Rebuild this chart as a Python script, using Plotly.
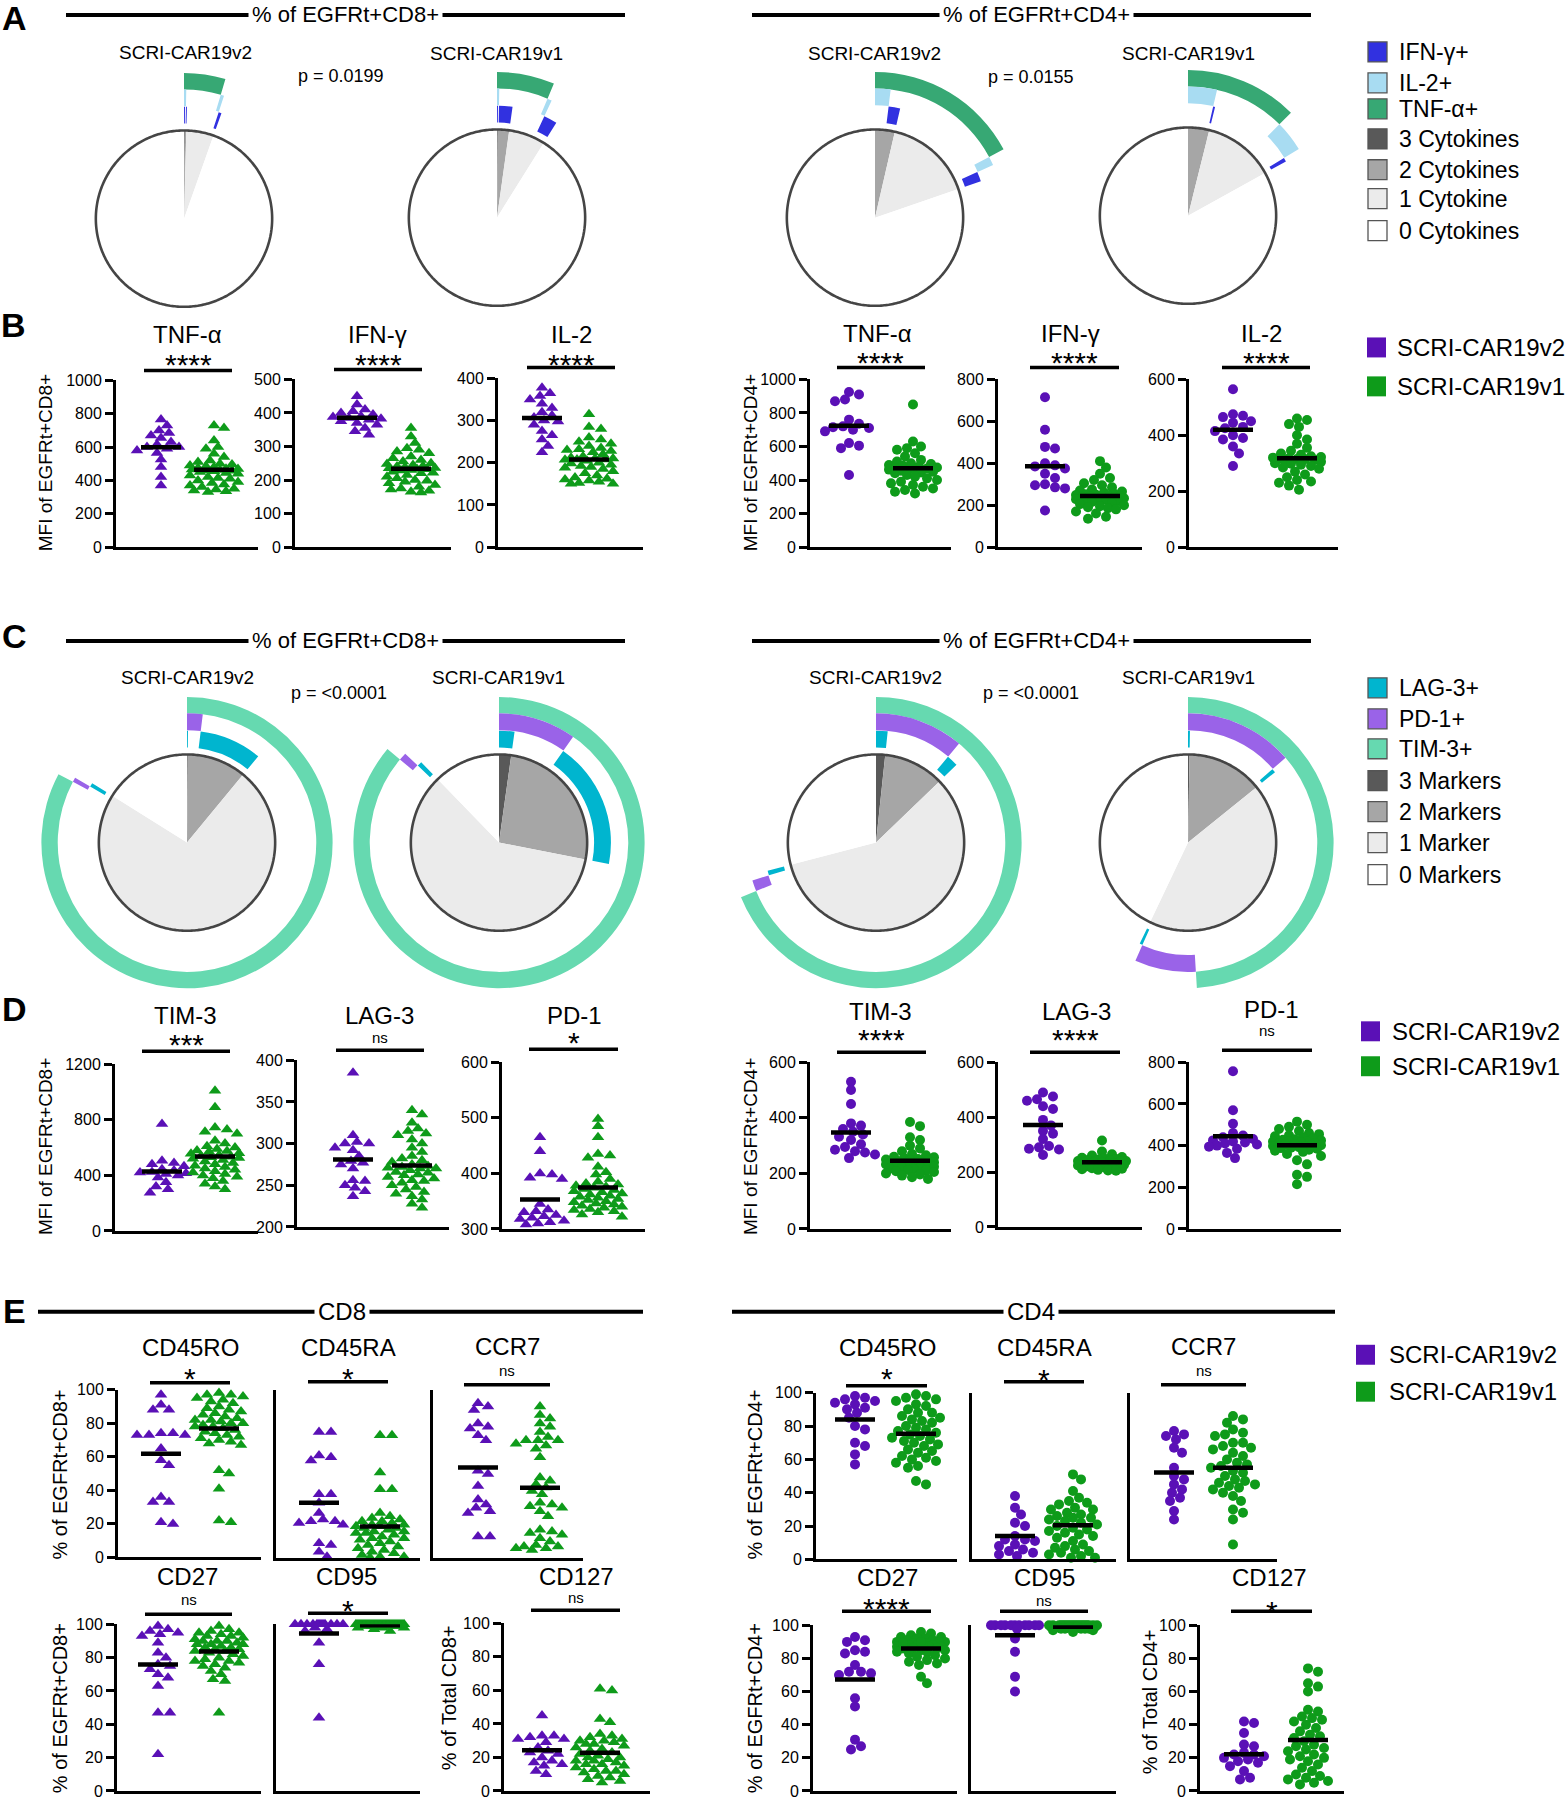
import numpy as np
import plotly.graph_objects as go

W, H = 1567, 1800
FONT = "Liberation Sans, Arial, Helvetica, sans-serif"
PURPLE = "#5a10b6"
GREEN = "#0e9b1a"

# ---------------- DATA ----------------
# Panels A / C : SPICE pies, % of cells in each marker combination
# combination order: all three, (1+2), (1+3), (2+3), 1 only, 2 only, 3 only, none
combo_members = [[0, 1, 2], [0, 1], [0, 2], [1, 2], [0], [1], [2], []]
cyto_rings = ["TNF-α+", "IL-2+", "IFN-γ+"]          # outer, middle, inner ring
cyto_cd8_v2 = [0.14, 0.14, 0.14, 0.00, 4.17, 0.42, 0.42, 94.57]
cyto_cd8_v1 = [0.14, 0.14, 1.94, 0.00, 4.17, 0.56, 1.94, 91.11]
cyto_cd4_v2 = [0.00, 1.94, 1.67, 0.00, 13.61, 1.11, 1.39, 80.28]
cyto_cd4_v1 = [0.00, 3.61, 0.28, 0.00, 8.61, 3.89, 0.56, 83.05]
marker_rings = ["TIM-3+", "PD-1+", "LAG-3+"]
mk_cd8_v2 = [0.14, 1.81, 9.03, 0.00, 71.81, 0.56, 0.56, 16.09]
mk_cd8_v1 = [2.22, 7.50, 18.33, 0.00, 58.06, 0.97, 0.69, 12.23]
mk_cd4_v2 = [1.67, 9.44, 1.67, 0.00, 56.11, 1.39, 0.69, 29.03]
mk_cd4_v1 = [0.28, 13.33, 0.56, 0.00, 34.86, 7.64, 0.42, 42.91]
p_cyto = ["p = 0.0199", "p = 0.0155"]
p_mark = ["p = <0.0001", "p = <0.0001"]
groups = ["SCRI-CAR19v2", "SCRI-CAR19v1"]

# Panel B : MFI cytokines
b_cd8_tnf_v2 = [765, 730, 700, 685, 670, 655, 630, 615, 600, 600, 590, 580, 565, 525, 480, 420, 370]
b_cd8_tnf_v1 = [730, 715, 640, 600, 590, 560, 540, 520, 510, 500, 495, 490, 485, 480, 475, 470, 468, 465, 462, 460,
                458, 455, 450, 445, 440, 430, 420, 415, 410, 400, 390, 385, 375, 370, 360, 350, 345, 340, 335, 330]
b_cd8_ifn_v2 = [450, 425, 410, 405, 400, 395, 390, 388, 385, 383, 380, 375, 370, 365, 355, 345, 335]
b_cd8_ifn_v1 = [355, 330, 310, 295, 290, 285, 280, 270, 265, 260, 255, 250, 248, 245, 242, 240, 238, 236, 235, 233,
                232, 230, 228, 225, 222, 220, 215, 210, 205, 200, 198, 195, 190, 185, 180, 175, 172, 168, 165, 163]
b_cd8_il2_v2 = [378, 365, 358, 350, 340, 330, 320, 312, 307, 300, 298, 290, 275, 265, 255, 240, 225]
b_cd8_il2_v1 = [315, 285, 280, 260, 255, 250, 245, 240, 235, 232, 230, 228, 225, 220, 215, 212, 210, 210, 208, 208,
                207, 205, 200, 198, 195, 192, 190, 188, 185, 180, 175, 170, 165, 162, 160, 158, 155, 152, 150, 150]
b_cd4_tnf_v2 = [925, 910, 880, 870, 760, 735, 720, 715, 710, 700, 690, 620, 605, 590, 430]
b_cd4_tnf_v1 = [850, 630, 600, 590, 580, 560, 540, 520, 510, 500, 495, 490, 485, 480, 475, 470, 468, 465, 462, 460,
                455, 450, 445, 440, 430, 420, 410, 400, 390, 380, 370, 360, 350, 340, 330, 320]
b_cd4_ifn_v2 = [715, 560, 478, 470, 400, 390, 385, 375, 350, 330, 300, 295, 285, 280, 175]
b_cd4_ifn_v1 = [410, 380, 350, 330, 320, 305, 295, 285, 275, 270, 265, 260, 255, 252, 250, 248, 245, 243, 242, 240,
                238, 236, 233, 230, 228, 225, 222, 220, 215, 210, 205, 200, 195, 190, 185, 180, 170, 160, 145, 135]
b_cd4_il2_v2 = [565, 475, 470, 465, 450, 445, 430, 425, 415, 400, 390, 385, 360, 335, 290]
b_cd4_il2_v1 = [460, 455, 440, 430, 400, 385, 370, 355, 345, 335, 330, 325, 322, 320, 318, 316, 315, 314, 312, 310,
                305, 300, 298, 295, 290, 285, 280, 270, 260, 250, 240, 235, 230, 220, 205]

# Panel D : MFI exhaustion markers
d_cd8_tim_v2 = [770, 505, 490, 480, 465, 445, 435, 425, 420, 415, 410, 400, 385, 350, 320, 300, 275]
d_cd8_tim_v1 = [1010, 890, 745, 730, 715, 700, 650, 630, 610, 600, 590, 580, 575, 570, 560, 555, 545, 540, 535, 530,
                525, 520, 510, 500, 490, 480, 470, 460, 450, 440, 430, 420, 410, 400, 390, 380, 360, 340, 320, 300]
d_cd8_lag_v2 = [385, 310, 302, 300, 300, 295, 292, 285, 279, 277, 275, 270, 256, 255, 250, 247, 243, 237]
d_cd8_lag_v1 = [340, 335, 325, 318, 315, 312, 310, 305, 300, 295, 290, 285, 282, 280, 278, 275, 273, 272, 271, 270,
                270, 268, 266, 265, 263, 262, 260, 258, 256, 255, 253, 250, 248, 245, 242, 240, 237, 233, 228, 223]
d_cd8_pd1_v2 = [465, 440, 400, 398, 392, 390, 345, 335, 332, 330, 325, 323, 320, 318, 315, 312, 310, 308]
d_cd8_pd1_v1 = [498, 485, 465, 435, 432, 428, 412, 402, 398, 390, 385, 382, 380, 378, 376, 374, 372, 370, 368, 366,
                364, 362, 360, 358, 356, 354, 352, 350, 348, 346, 344, 342, 340, 338, 336, 334, 332, 330, 326, 322]
d_cd4_tim_v2 = [530, 500, 450, 380, 372, 360, 350, 340, 332, 320, 305, 295, 285, 280, 275, 268, 255]
d_cd4_tim_v1 = [385, 370, 330, 320, 300, 290, 280, 270, 265, 260, 258, 255, 252, 250, 248, 246, 244, 242, 240, 238,
                236, 234, 232, 230, 228, 226, 224, 222, 220, 218, 215, 212, 210, 208, 205, 200, 196, 192, 186, 180]
d_cd4_lag_v2 = [490, 475, 465, 460, 440, 430, 390, 370, 350, 340, 320, 295, 290, 285, 282, 262]
d_cd4_lag_v1 = [315, 275, 265, 260, 255, 252, 250, 248, 246, 244, 242, 240, 240, 238, 236, 235, 234, 232, 230, 228,
                226, 225, 224, 222, 220, 218, 216, 214, 212, 210, 208, 206, 205]
d_cd4_pd1_v2 = [757, 570, 505, 460, 448, 440, 432, 425, 420, 415, 410, 405, 400, 395, 385, 365, 340]
d_cd4_pd1_v1 = [515, 500, 490, 480, 470, 460, 455, 450, 445, 440, 435, 430, 428, 425, 422, 420, 418, 415, 412, 410,
                408, 405, 402, 400, 398, 395, 392, 390, 388, 385, 380, 375, 370, 360, 350, 330, 310, 260, 250, 215]

# Panel E : memory phenotype (%)
e_cd8_cd45ro_v2 = [97, 91, 88, 88, 74, 73, 73, 74, 73, 65, 58, 55, 36, 33, 33, 21, 20]
e_cd8_cd45ro_v1 = [98, 97, 97, 96, 95, 94, 93, 92, 90, 89, 88, 87, 86, 85, 84, 83, 82, 82, 81, 80,
                   80, 79, 78, 78, 77, 76, 75, 74, 73, 72, 71, 70, 68, 67, 52, 50, 41, 22, 21, 69]
e_cd8_cd45ra_v2 = [75, 75, 61, 60, 58, 38, 38, 33, 27, 23, 22, 22, 21, 20, 9, 8, 4, 1]
e_cd8_cd45ra_v1 = [73, 73, 51, 41, 41, 27, 25, 24, 23, 22, 22, 21, 20, 20, 19, 18, 18, 17, 16, 15,
                   15, 14, 13, 12, 12, 11, 10, 9, 8, 7, 6, 5, 4, 3, 2, 1, 1, 0.5, 19, 16]
e_cd8_ccr7_v2 = [92, 90, 88, 80, 78, 77, 73, 70, 52, 50, 43, 35, 32, 30, 28, 27, 13, 13]
e_cd8_ccr7_v1 = [90, 85, 83, 80, 78, 75, 72, 70, 70, 68, 67, 65, 60, 48, 46, 44, 42, 40, 38, 33,
                 32, 31, 30, 28, 25, 17, 16, 15, 14, 12, 10, 8, 7, 7, 6, 6, 5, 70]
e_cd4_cd45ro_v2 = [98, 97, 96, 95, 94, 93, 91, 90, 88, 85, 80, 78, 70, 68, 63, 57]
e_cd4_cd45ro_v1 = [99, 98, 97, 96, 95, 93, 92, 90, 88, 86, 85, 84, 82, 80, 79, 78, 77, 76, 75, 74,
                   73, 72, 71, 70, 69, 68, 66, 65, 64, 62, 61, 60, 59, 58, 56, 55, 47, 45, 88, 83]
e_cd4_cd45ra_v2 = [38, 31, 27, 22, 20, 14, 12, 12, 11, 9, 8, 6, 5, 4, 3, 2]
e_cd4_cd45ra_v1 = [51, 48, 41, 37, 35, 34, 33, 31, 30, 28, 27, 26, 25, 24, 23, 22, 21, 20, 19, 18,
                   17, 16, 15, 14, 13, 11, 9, 8, 7, 6, 5, 4, 3, 2, 1, 1, 30, 25]
e_cd4_ccr7_v2 = [77, 75, 74, 72, 67, 64, 55, 50, 48, 45, 42, 40, 37, 35, 29, 24]
e_cd4_ccr7_v1 = [86, 84, 82, 78, 76, 75, 74, 70, 68, 67, 66, 64, 62, 60, 58, 57, 56, 55, 53, 52,
                 50, 48, 47, 46, 45, 44, 43, 42, 40, 38, 35, 30, 28, 24, 9, 70]
e_cd8_cd27_v2 = [99, 97, 96, 95, 94, 93, 89, 83, 80, 76, 75, 73, 70, 68, 63, 47, 47, 22]
e_cd8_cd27_v1 = [99, 97, 96, 95, 95, 94, 93, 93, 92, 91, 90, 90, 89, 88, 88, 87, 86, 86, 85, 85,
                 84, 84, 83, 82, 81, 80, 79, 78, 78, 77, 76, 75, 74, 72, 70, 67, 66, 47, 88, 90]
e_cd8_cd95_v2 = [100, 100, 100, 100, 100, 100, 100, 100, 100, 100, 100, 100, 98, 97, 96, 89, 76, 44]
e_cd8_cd95_v1 = [100, 100, 100, 100, 100, 100, 100, 100, 100, 100, 100, 100, 100, 100, 100, 100, 100, 100, 100, 100,
                 100, 100, 100, 100, 100, 99, 99, 99, 99, 99, 99, 99, 99, 99, 99, 98, 98, 98, 97, 96]
e_cd8_cd127_v2 = [45, 33, 33, 32, 31, 31, 29, 26, 24, 23, 22, 20, 18, 17, 16, 15, 12, 10]
e_cd8_cd127_v1 = [61, 60, 43, 41, 34, 33, 32, 31, 30, 29, 28, 27, 26, 25, 24, 23, 22, 21, 20, 20,
                  19, 18, 17, 16, 16, 15, 14, 13, 12, 11, 10, 9, 8, 7, 6, 5, 30, 28, 18, 12]
e_cd4_cd27_v2 = [93, 91, 90, 84, 83, 85, 72, 76, 72, 71, 70, 56, 51, 31, 27, 25]
e_cd4_cd27_v1 = [96, 95, 94, 93, 93, 92, 92, 91, 91, 90, 90, 90, 89, 89, 88, 88, 88, 87, 87, 87,
                 86, 86, 86, 85, 85, 84, 84, 83, 82, 81, 80, 79, 78, 77, 76, 69, 65, 88, 89, 90]
e_cd4_cd95_v2 = [100, 100, 100, 100, 100, 100, 100, 100, 100, 100, 100, 98, 92, 84, 69, 60]
e_cd4_cd95_v1 = [100, 100, 100, 100, 100, 100, 100, 100, 100, 100, 100, 100, 100, 100, 100, 100, 100, 100, 100, 100,
                 99, 99, 99, 99, 99, 99, 99, 99, 99, 99, 98, 98, 98, 98, 98, 97, 97, 96]
e_cd4_cd127_v2 = [42, 41, 35, 28, 27, 23, 22, 22, 21, 20, 19, 18, 17, 15, 12, 8, 7]
e_cd4_cd127_v1 = [74, 72, 65, 63, 60, 49, 48, 45, 44, 43, 42, 40, 38, 36, 34, 32, 30, 28, 26, 25,
                  24, 22, 21, 20, 19, 18, 16, 14, 12, 10, 9, 8, 7, 6, 5, 4, 33, 27]

# ---------------- STYLE ----------------
LEVEL_COLORS = {3: "#595959", 2: "#a6a6a6", 1: "#ebebeb", 0: "#ffffff"}
RING_BOUNDS = [(130.5, 147.0), (113.5, 130.5), (96.0, 113.0)]
CYTO_COLORS = ["#37a874", "#a8dcf2", "#3131e0"]
MARKER_COLORS = ["#66d9b0", "#9a63e8", "#00b5cf"]
PIE_R = 89.0

# the rendered page maps paper rows as  y_shown = Y0 + YS * y_layout ; compensate
Y0, YS = 7.0, 0.9922


def px(x):
    return x / W


def py(y):
    v = 1 - ((y - Y0) / YS) / H
    return min(1.0, max(0.0, v))


fig = go.Figure()
shapes, ann = [], []
layout = dict(width=W, height=H, margin=dict(l=0, r=0, t=0, b=0), paper_bgcolor="white",
              plot_bgcolor="white", showlegend=False, font=dict(family=FONT, color="black"))


def text(x, y, s, size, bold=False, angle=0, anchor="center", bg=None):
    d = dict(x=px(x), y=py(y), xref="paper", yref="paper", text=(f"<b>{s}</b>" if bold else s),
             showarrow=False, font=dict(size=size, color="black", family=FONT),
             xanchor=anchor, yanchor="middle", textangle=angle)
    if bg:
        d.update(bgcolor=bg, borderpad=3)
    ann.append(d)


def hline(x0, x1, y, w):
    shapes.append(dict(type="line", xref="paper", yref="paper", x0=px(x0), x1=px(x1), y0=py(y), y1=py(y),
                       line=dict(color="black", width=w)))


def rect(x0, y0, x1, y1, fill, lw=0):
    shapes.append(dict(type="rect", xref="paper", yref="paper", x0=px(x0), x1=px(x1), y0=py(y1), y1=py(y0),
                       fillcolor=fill, line=dict(color="#555555", width=lw)))


# ---------------- PIES ----------------
pie_specs = [
    (184, 218, cyto_cd8_v2, CYTO_COLORS), (497, 217, cyto_cd8_v1, CYTO_COLORS),
    (875, 217, cyto_cd4_v2, CYTO_COLORS), (1188, 215, cyto_cd4_v1, CYTO_COLORS),
    (187, 843, mk_cd8_v2, MARKER_COLORS), (499, 843, mk_cd8_v1, MARKER_COLORS),
    (876, 843, mk_cd4_v2, MARKER_COLORS), (1188, 843, mk_cd4_v1, MARKER_COLORS),
]
for k, (cx, cy, values, ring_cols) in enumerate(pie_specs, start=1):
    pid = "polar" if k == 1 else f"polar{k}"
    yc = py(cy)
    layout[pid] = dict(domain=dict(x=[px(cx - 150), px(cx + 150)], y=[yc - 150 / H, yc + 150 / H]),
                       bgcolor="rgba(0,0,0,0)", barmode="overlay",
                       radialaxis=dict(visible=False, range=[0, 150]),
                       angularaxis=dict(visible=False, rotation=90, direction="clockwise"))
    vals = np.asarray(values, float)
    deg = vals / vals.sum() * 360.0
    starts = np.concatenate([[0.0], np.cumsum(deg)[:-1]])
    levels = np.array([len(m) for m in combo_members])
    th, wd, cols = [], [], []
    for lev in (3, 2, 1, 0):
        sel = levels == lev
        w = float(deg[sel].sum())
        if w <= 0:
            continue
        s = float(starts[sel].min())
        th.append(s + w / 2)
        wd.append(w)
        cols.append(LEVEL_COLORS[lev])
    fig.add_trace(go.Barpolar(r=[PIE_R] * len(th), theta=th, width=wd, base=[0] * len(th),
                              marker=dict(color=cols, line=dict(width=0)), subplot=pid, hoverinfo="skip"))
    for m, col in enumerate(ring_cols):
        segs = []
        for i, mem in enumerate(combo_members):
            if m in mem and deg[i] > 0:
                a, b = float(starts[i]), float(starts[i] + deg[i])
                if segs and abs(segs[-1][1] - a) < 1e-6:
                    segs[-1][1] = b
                else:
                    segs.append([a, b])
        r0, r1 = RING_BOUNDS[m]
        fig.add_trace(go.Barpolar(r=[r1 - r0] * len(segs), base=[r0] * len(segs),
                                  theta=[(a + b) / 2 for a, b in segs], width=[b - a for a, b in segs],
                                  marker=dict(color=col, line=dict(width=0)), subplot=pid, hoverinfo="skip"))
    fig.add_trace(go.Scatterpolar(r=[PIE_R] * 361, theta=list(range(361)), mode="lines",
                                  line=dict(color="#454545", width=2.6), subplot=pid, hoverinfo="skip"))

# pie titles / headers / p values
for (cx, ty), g in zip([(185, 52), (496, 53), (874, 53), (1188, 53)], groups * 2):
    text(cx, ty, g, 19)
for (cx, ty), g in zip([(187, 678), (498, 678), (876, 678), (1188, 678)], groups * 2):
    text(cx, ty, g, 19)
text(341, 75, p_cyto[0], 18)
text(1031, 76, p_cyto[1], 18)
text(339, 693, p_mark[0], 18)
text(1031, 693, p_mark[1], 18)
for y in (14, 641):
    hline(66, 625, y, 4)
    hline(752, 1311, y, 4)
    text(345, y, "% of EGFRt+CD8+", 22, bg="white")
    text(1036, y, "% of EGFRt+CD4+", 22, bg="white")
hline(38, 643, 1313, 4)
hline(732, 1335, 1313, 4)
text(342, 1313, "CD8", 24, bg="white")
text(1031, 1313, "CD4", 24, bg="white")

# pie legends
legA = [("IFN-γ+", CYTO_COLORS[2]), ("IL-2+", CYTO_COLORS[1]), ("TNF-α+", CYTO_COLORS[0]),
        ("3 Cytokines", LEVEL_COLORS[3]), ("2 Cytokines", LEVEL_COLORS[2]), ("1 Cytokine", LEVEL_COLORS[1]),
        ("0 Cytokines", LEVEL_COLORS[0])]
for (lab, col), yy in zip(legA, [51, 82, 108, 138, 169, 198, 230]):
    rect(1368, yy - 10, 1387, yy + 10, col, lw=1.3)
    text(1397, yy, lab, 23, anchor="left")
legC = [("LAG-3+", MARKER_COLORS[2]), ("PD-1+", MARKER_COLORS[1]), ("TIM-3+", MARKER_COLORS[0]),
        ("3 Markers", LEVEL_COLORS[3]), ("2 Markers", LEVEL_COLORS[2]), ("1 Marker", LEVEL_COLORS[1]),
        ("0 Markers", LEVEL_COLORS[0])]
for (lab, col), yy in zip(legC, [688, 719, 749, 781, 812, 843, 875]):
    rect(1368, yy - 10, 1387, yy + 10, col, lw=1.3)
    text(1397, yy, lab, 23, anchor="left")

# group legends for scatter panels
for (bx0, bx1, tx, rows) in [(1367, 1386, 1395, (347, 386)), (1361, 1380, 1390, (1032, 1067)),
                             (1356, 1375, 1387, (1356, 1393))]:
    for g, col, yy in zip(groups, (PURPLE, GREEN), rows):
        rect(bx0, yy - 10, bx1, yy + 10, col)
        text(tx, yy, g, 24, anchor="left")

# panel letters
for lab, (x, y) in zip("ABCDE", [(14, 17), (13, 325), (14, 636), (14, 1010), (14, 1312)]):
    text(x, y, lab, 34, bold=True)

# axis titles
for x, y, s, f in [(45, 463, "MFI of EGFRt+CD8+", 19), (750, 463, "MFI of EGFRt+CD4+", 19),
                   (45, 1148, "MFI of EGFRt+CD8+", 19), (750, 1148, "MFI of EGFRt+CD4+", 19),
                   (60, 1476, "% of EGFRt+CD8+", 20), (755, 1476, "% of EGFRt+CD4+", 20),
                   (60, 1710, "% of EGFRt+CD8+", 20), (755, 1710, "% of EGFRt+CD4+", 20),
                   (449, 1700, "% of Total CD8+", 20), (1150, 1704, "% of Total CD4+", 20)]:
    text(x, y, s, f, angle=-90)


# ---------------- SCATTER PANELS ----------------
def swarm_offsets(vals, ppu, dmx, dmy, maxw, step=2.0):
    vals = np.asarray(vals, float)
    ys = vals * ppu
    order = np.argsort(-vals, kind="stable")
    cands = [0.0]
    k = 1
    while k * step <= maxw:
        cands += [k * step, -k * step]
        k += 1
    pxs, pys = [], []
    out = np.zeros(len(vals))
    for i in order:
        best, bestd = 0.0, -1.0
        for c in cands:
            if pxs:
                d = float(np.min(((np.array(pxs) - c) / dmx) ** 2 + ((np.array(pys) - ys[i]) / dmy) ** 2))
            else:
                d = 99.0
            if d >= 1:
                best = c
                break
            if d > bestd:
                bestd, best = d, c
        out[i] = best
        pxs.append(best)
        pys.append(ys[i])
    return out


TRI, CIR = "triangle-up", "circle"
P = [
    dict(v2=b_cd8_tnf_v2, v1=b_cd8_tnf_v1, L=116, R=258, T=380, B=547, c2=161, c1=214, lo=0, hi=1000, dt=200, sym=TRI, ticks=True, title="TNF-α", tx=187, ty=334, sig="****", sy=357, s0=144, s1=232, sly=370),
    dict(v2=b_cd8_ifn_v2, v1=b_cd8_ifn_v1, L=295, R=451, T=379, B=547, c2=357, c1=411, lo=0, hi=500, dt=100, sym=TRI, ticks=True, title="IFN-γ", tx=377, ty=334, sig="****", sy=357, s0=334, s1=422, sly=369),
    dict(v2=b_cd8_il2_v2, v1=b_cd8_il2_v1, L=498, R=643, T=378, B=547, c2=542, c1=589, lo=0, hi=400, dt=100, sym=TRI, ticks=True, title="IL-2", tx=571, ty=334, sig="****", sy=357, s0=527, s1=615, sly=367),
    dict(v2=b_cd4_tnf_v2, v1=b_cd4_tnf_v1, L=810, R=951, T=379, B=547, c2=849, c1=913, lo=0, hi=1000, dt=200, sym=CIR, ticks=True, title="TNF-α", tx=877, ty=333, sig="****", sy=355, s0=837, s1=925, sly=367),
    dict(v2=b_cd4_ifn_v2, v1=b_cd4_ifn_v1, L=998, R=1142, T=379, B=547, c2=1045, c1=1100, lo=0, hi=800, dt=200, sym=CIR, ticks=True, title="IFN-γ", tx=1070, ty=333, sig="****", sy=355, s0=1030, s1=1119, sly=367),
    dict(v2=b_cd4_il2_v2, v1=b_cd4_il2_v1, L=1189, R=1338, T=379, B=547, c2=1233, c1=1297, lo=0, hi=600, dt=200, sym=CIR, ticks=True, title="IL-2", tx=1261, ty=333, sig="****", sy=355, s0=1222, s1=1310, sly=367),
    dict(v2=d_cd8_tim_v2, v1=d_cd8_tim_v1, L=115, R=258, T=1065, B=1232, c2=162, c1=215, lo=0, hi=1200, dt=400, sym=TRI, ticks=True, title="TIM-3", tx=185, ty=1016, sig="***", sy=1038, s0=142, s1=230, sly=1052),
    dict(v2=d_cd8_lag_v2, v1=d_cd8_lag_v1, L=297, R=449, T=1061, B=1228, c2=353, c1=412, lo=200, hi=400, dt=50, sym=TRI, ticks=True, title="LAG-3", tx=379, ty=1016, sig="ns", sy=1040, s0=336, s1=424, sly=1051),
    dict(v2=d_cd8_pd1_v2, v1=d_cd8_pd1_v1, L=502, R=645, T=1063, B=1230, c2=540, c1=598, lo=300, hi=600, dt=100, sym=TRI, ticks=True, title="PD-1", tx=574, ty=1016, sig="*", sy=1036, s0=529, s1=618, sly=1050),
    dict(v2=d_cd4_tim_v2, v1=d_cd4_tim_v1, L=810, R=951, T=1063, B=1230, c2=851, c1=910, lo=0, hi=600, dt=200, sym=CIR, ticks=True, title="TIM-3", tx=880, ty=1012, sig="****", sy=1033, s0=837, s1=926, sly=1053),
    dict(v2=d_cd4_lag_v2, v1=d_cd4_lag_v1, L=998, R=1142, T=1063, B=1228, c2=1043, c1=1102, lo=0, hi=600, dt=200, sym=CIR, ticks=True, title="LAG-3", tx=1076, ty=1012, sig="****", sy=1033, s0=1030, s1=1120, sly=1053),
    dict(v2=d_cd4_pd1_v2, v1=d_cd4_pd1_v1, L=1189, R=1341, T=1063, B=1230, c2=1233, c1=1297, lo=0, hi=800, dt=200, sym=CIR, ticks=True, title="PD-1", tx=1271, ty=1010, sig="ns", sy=1033, s0=1222, s1=1312, sly=1051),
    dict(v2=e_cd8_cd45ro_v2, v1=e_cd8_cd45ro_v1, L=118, R=261, T=1391, B=1559, c2=161, c1=219, lo=0, hi=100, dt=20, sym=TRI, ticks=True, title="CD45RO", tx=190, ty=1349, sig="*", sy=1373, s0=150, s1=230, sly=1384),
    dict(v2=e_cd8_cd45ra_v2, v1=e_cd8_cd45ra_v1, L=276, R=420, T=1391, B=1560, c2=319, c1=380, lo=0, hi=100, dt=20, sym=TRI, ticks=False, title="CD45RA", tx=348, ty=1349, sig="*", sy=1373, s0=308, s1=388, sly=1383),
    dict(v2=e_cd8_ccr7_v2, v1=e_cd8_ccr7_v1, L=433, R=583, T=1391, B=1560, c2=478, c1=540, lo=0, hi=100, dt=20, sym=TRI, ticks=False, title="CCR7", tx=507, ty=1348, sig="ns", sy=1373, s0=464, s1=550, sly=1386),
    dict(v2=e_cd4_cd45ro_v2, v1=e_cd4_cd45ro_v1, L=816, R=957, T=1394, B=1561, c2=855, c1=916, lo=0, hi=100, dt=20, sym=CIR, ticks=True, title="CD45RO", tx=887, ty=1349, sig="*", sy=1373, s0=846, s1=927, sly=1387),
    dict(v2=e_cd4_cd45ra_v2, v1=e_cd4_cd45ra_v1, L=972, R=1116, T=1394, B=1561, c2=1015, c1=1073, lo=0, hi=100, dt=20, sym=CIR, ticks=False, title="CD45RA", tx=1044, ty=1349, sig="*", sy=1374, s0=1004, s1=1084, sly=1383),
    dict(v2=e_cd4_ccr7_v2, v1=e_cd4_ccr7_v1, L=1130, R=1277, T=1394, B=1561, c2=1174, c1=1233, lo=0, hi=100, dt=20, sym=CIR, ticks=False, title="CCR7", tx=1203, ty=1348, sig="ns", sy=1373, s0=1161, s1=1246, sly=1386),
    dict(v2=e_cd8_cd27_v2, v1=e_cd8_cd27_v1, L=117, R=261, T=1626, B=1793, c2=158, c1=219, lo=0, hi=100, dt=20, sym=TRI, ticks=True, title="CD27", tx=187, ty=1578, sig="ns", sy=1603, s0=145, s1=232, sly=1616),
    dict(v2=e_cd8_cd95_v2, v1=e_cd8_cd95_v1, L=276, R=420, T=1626, B=1793, c2=319, c1=380, lo=0, hi=100, dt=20, sym=TRI, ticks=False, title="CD95", tx=346, ty=1578, sig="*", sy=1605, s0=308, s1=388, sly=1615),
    dict(v2=e_cd8_cd127_v2, v1=e_cd8_cd127_v1, L=504, R=650, T=1625, B=1793, c2=542, c1=600, lo=0, hi=100, dt=20, sym=TRI, ticks=True, title="CD127", tx=576, ty=1578, sig="ns", sy=1601, s0=531, s1=620, sly=1612),
    dict(v2=e_cd4_cd27_v2, v1=e_cd4_cd27_v1, L=813, R=957, T=1627, B=1793, c2=855, c1=921, lo=0, hi=100, dt=20, sym=CIR, ticks=True, title="CD27", tx=887, ty=1579, sig="****", sy=1603, s0=842, s1=931, sly=1613),
    dict(v2=e_cd4_cd95_v2, v1=e_cd4_cd95_v1, L=971, R=1116, T=1627, B=1793, c2=1015, c1=1073, lo=0, hi=100, dt=20, sym=CIR, ticks=False, title="CD95", tx=1044, ty=1579, sig="ns", sy=1604, s0=1000, s1=1088, sly=1613),
    dict(v2=e_cd4_cd127_v2, v1=e_cd4_cd127_v1, L=1200, R=1344, T=1627, B=1793, c2=1244, c1=1308, lo=0, hi=100, dt=20, sym=CIR, ticks=True, title="CD127", tx=1269, ty=1579, sig="*", sy=1606, s0=1231, s1=1312, sly=1613),
]

for i, p in enumerate(P, start=1):
    sfx = "" if i == 1 else str(i)
    unit = float(p["c1"] - p["c2"])
    xr = [(p["L"] - p["c2"]) / unit, (p["R"] - p["c2"]) / unit]
    layout["xaxis" + sfx] = dict(domain=[px(p["L"]), px(p["R"])], anchor="y" + sfx, range=xr, showline=True,
                                 linewidth=3, linecolor="black", ticks="", showticklabels=False,
                                 showgrid=False, zeroline=False, fixedrange=True)
    yax = dict(domain=[py(p["B"]), py(p["T"])], anchor="x" + sfx, range=[p["lo"], p["hi"]], showline=True,
               linewidth=3, linecolor="black", showgrid=False, zeroline=False, fixedrange=True)
    if p["ticks"]:
        tv = [float(v) for v in np.arange(p["lo"], p["hi"] + p["dt"] / 2, p["dt"])]
        yax.update(ticks="outside", ticklen=8, tickwidth=2.5, tickcolor="black", tickmode="array", tickvals=tv,
                   ticktext=[f"{v:g}" for v in tv], tickfont=dict(size=16, family=FONT, color="black"))
    else:
        yax.update(ticks="", showticklabels=False)
    layout["yaxis" + sfx] = yax
    ppu = (p["B"] - p["T"]) / float(p["hi"] - p["lo"])
    tri = p["sym"] == TRI
    for gi, (vals, col) in enumerate([(p["v2"], PURPLE), (p["v1"], GREEN)]):
        offs = swarm_offsets(vals, ppu, 10.5 if tri else 9.5, 7.0 if tri else 8.0, 25)
        fig.add_trace(go.Scatter(x=list(gi + offs / unit), y=list(vals), mode="markers",
                                 marker=dict(symbol=p["sym"], size=11 if tri else 10, color=col, line=dict(width=0)),
                                 xaxis="x" + sfx, yaxis="y" + sfx, cliponaxis=False, hoverinfo="skip"))
        m = float(np.mean(vals))
        fig.add_trace(go.Scatter(x=[gi - 20 / unit, gi + 20 / unit], y=[m, m], mode="lines",
                                 line=dict(color="black", width=4.5), xaxis="x" + sfx, yaxis="y" + sfx,
                                 cliponaxis=False, hoverinfo="skip"))
    text(p["tx"], p["ty"], p["title"], 24)
    if p["sig"] == "ns":
        text((p["s0"] + p["s1"]) / 2, p["sy"] - 1.5, "ns", 15)
    else:
        text((p["s0"] + p["s1"]) / 2, p["sy"] + 7, p["sig"], 30)
    hline(p["s0"], p["s1"], p["sly"], 3.5)

layout["shapes"] = shapes
layout["annotations"] = ann
fig.update_layout(**layout)
fig.write_html("out.html", include_plotlyjs=True, full_html=True, config={"displayModeBar": False},
               post_script="document.body.style.margin='0px';document.body.style.overflow='hidden';")
